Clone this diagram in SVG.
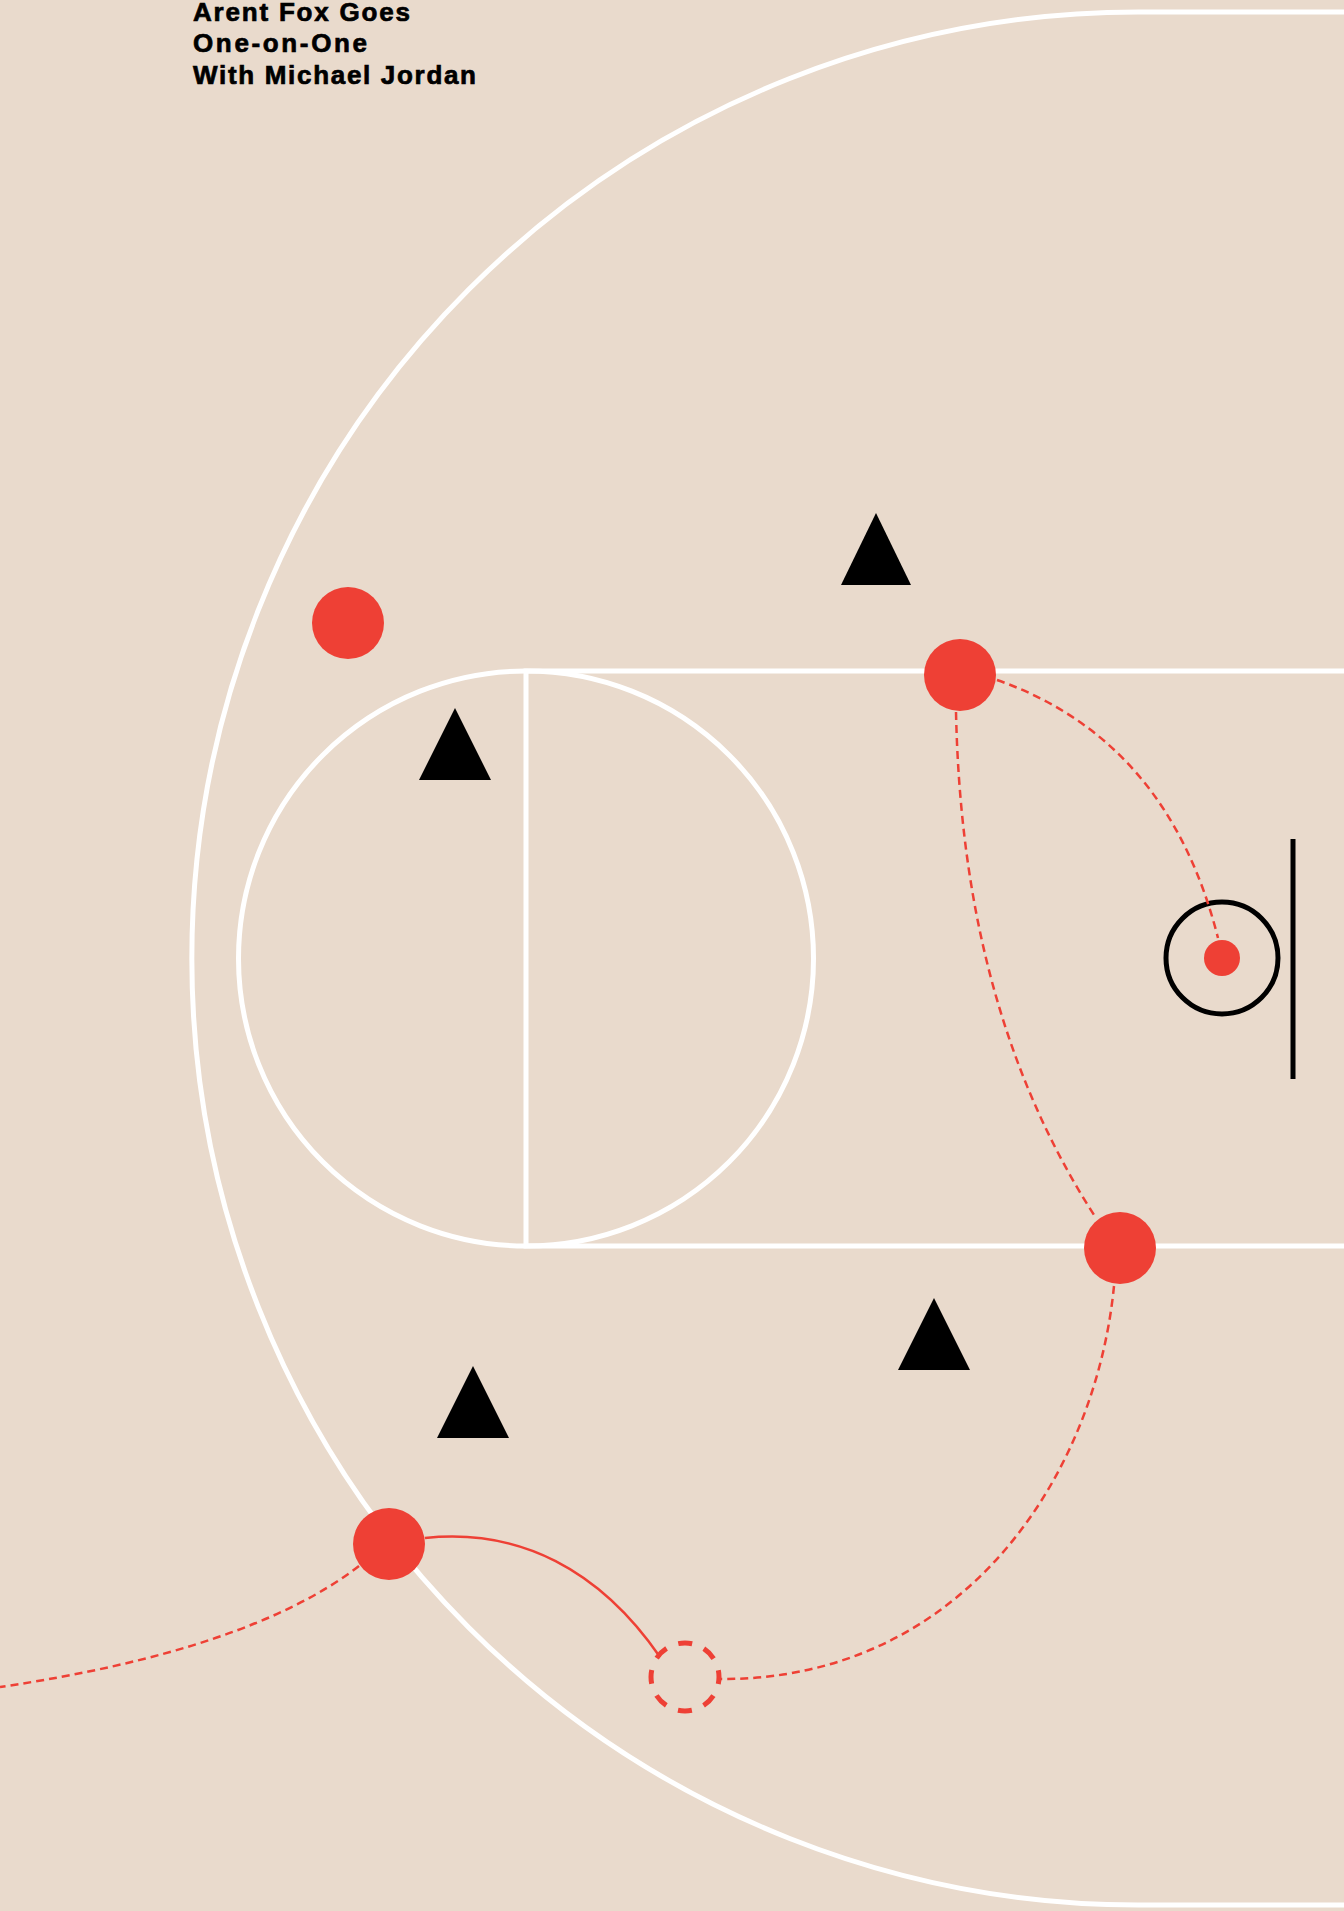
<svg xmlns="http://www.w3.org/2000/svg" width="1344" height="1911" viewBox="0 0 1344 1911">
<style>
.court{fill:none;stroke:#fff;stroke-width:5}
.off{fill:#EE4035}
.def{fill:#000}
.dash{fill:none;stroke:#EE4035;stroke-width:2.5;stroke-dasharray:8 5}
.solid{fill:none;stroke:#EE4035;stroke-width:2.5}
.title{font-family:"Liberation Sans",Arial,sans-serif;font-weight:bold;font-size:26px;fill:#000;stroke:#000;stroke-width:0.7}
</style>
<rect width="1344" height="1911" fill="#E9DACC"/>
<g id="court">
<path class="court" d="M1344,12 L1138,12 A946.5,946.5 0 0 0 1138,1905 L1344,1905"/>
<path class="court" d="M1344,671 L526,671 L526,1246 L1344,1246"/>
<circle class="court" cx="526" cy="958.5" r="287.5"/>
</g>
<g id="hoop">
<line x1="1293" y1="839" x2="1293" y2="1079" stroke="#000" stroke-width="5"/>
<circle cx="1222" cy="958" r="56" fill="none" stroke="#000" stroke-width="5"/>
</g>
<g id="connectors">
<path class="dash" d="M997,680 Q1168,740 1218,938"/>
<path class="dash" d="M956,712 C960,900 1000,1070 1096,1218"/>
<path class="dash" d="M1114,1286 C1095,1480 960,1680 721,1679"/>
<path class="dash" d="M359,1566 Q250,1650 0,1687"/>
<path class="solid" d="M425,1538 C520,1528 600,1570 660,1657"/>
</g>
<g id="ball"><circle class="off" cx="1222" cy="958" r="18"/></g>
<g id="o1"><circle class="off" cx="348" cy="623" r="36"/></g>
<g id="o2"><circle class="off" cx="960" cy="675" r="36"/></g>
<g id="o3"><circle class="off" cx="1120" cy="1248" r="36"/></g>
<g id="o4"><circle class="off" cx="389" cy="1544" r="36"/></g>
<g id="o5"><circle cx="685" cy="1677" r="34" fill="none" stroke="#EE4035" stroke-width="5" stroke-dasharray="14 12.7" stroke-dashoffset="7"/></g>
<g id="d1"><polygon class="def" points="876,513 911,585 841,585"/></g>
<g id="d2"><polygon class="def" points="455,708 491,780 419,780"/></g>
<g id="d3"><polygon class="def" points="934,1298 970,1370 898,1370"/></g>
<g id="d4"><polygon class="def" points="473,1366 509,1438 437,1438"/></g>
<g id="title">
<text class="title" x="193" y="21" textLength="217" lengthAdjust="spacing">Arent Fox Goes</text>
<text class="title" x="193" y="52" textLength="174" lengthAdjust="spacing">One-on-One</text>
<text class="title" x="193" y="84" textLength="283" lengthAdjust="spacing">With Michael Jordan</text>
</g>
</svg>
